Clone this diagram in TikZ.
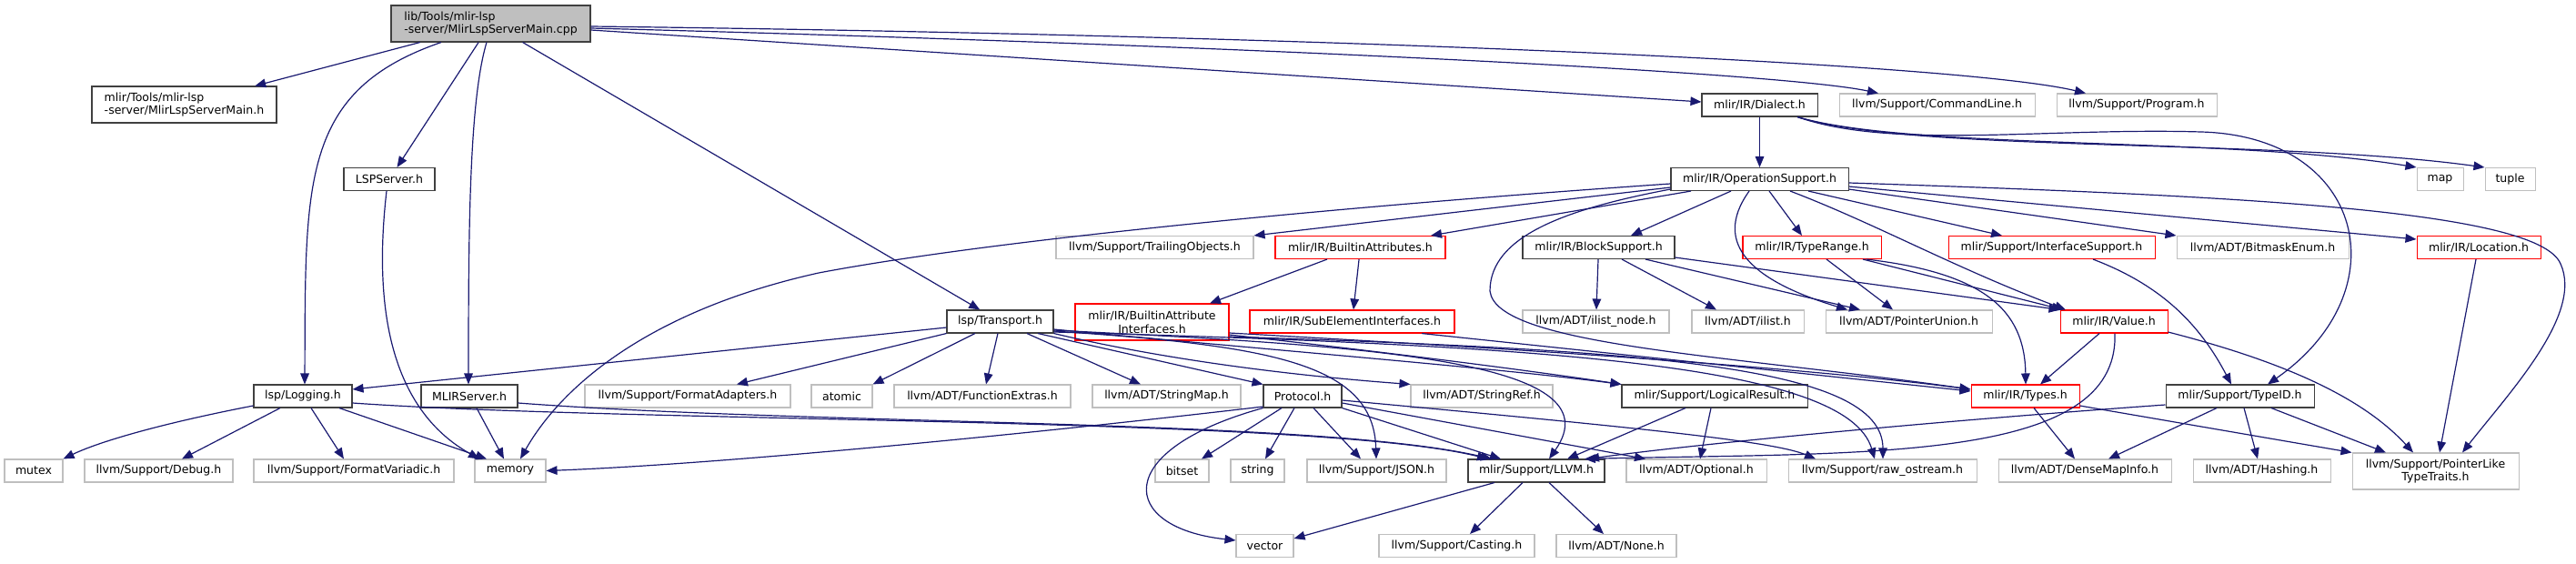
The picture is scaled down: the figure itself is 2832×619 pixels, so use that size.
\documentclass[tikz,border=0pt]{standalone}
\usepackage{fontspec}
\setmainfont{DejaVu Sans}
\usetikzlibrary{arrows.meta}
\definecolor{grey75}{RGB}{191,191,191}
\definecolor{midnight}{RGB}{25,25,112}
\definecolor{boxline}{RGB}{64,64,64}
\begin{document}
\begin{tikzpicture}[x=0.025cm,y=-0.025cm,
  every node/.style={font=\fontsize{8.9}{10.6}\selectfont},
  bw/.style={minimum width=#1*0.025cm},
  box/.style={rectangle,inner sep=0pt,minimum height=0.625cm,line width=0.75pt},
  doc/.style={box,draw=boxline},
  ext/.style={box,draw=grey75},
  cut/.style={box,draw=red},
  tall/.style={minimum height=1cm},
  inc/.style={draw=midnight,line width=0.85pt,-{Triangle[length=0.3cm,width=0.24cm]}}]
\useasboundingbox (0,0) rectangle (2832,619);
% rang 0 et 1
\node[doc,fill=grey75,bw=219,tall,align=left] (root) at (539.5,26) {lib/Tools/mlir-lsp\\-server/MlirLspServerMain.cpp};
\node[doc,bw=203,tall,align=left] (mlsmh) at (202.5,115) {mlir/Tools/mlir-lsp\\-server/MlirLspServerMain.h};
\node[doc,bw=127] (dialect) at (1934.5,115.5) {mlir/IR/Dialect.h};
\node[ext,bw=215] (cmdline) at (2129.5,115.5) {llvm/Support/CommandLine.h};
\node[ext,bw=176] (program) at (2349,115.5) {llvm/Support/Program.h};
% rang 2
\node[doc,bw=100] (lspserver) at (428,197) {LSPServer.h};
\node[doc,bw=195] (opsupport) at (1934.5,197) {mlir/IR/OperationSupport.h};
\node[ext,bw=51] (map) at (2682.5,197) {map};
\node[ext,bw=55] (tuple) at (2759.5,197) {tuple};
% rang 3
\node[ext,bw=217] (trailing) at (1269.5,272) {llvm/Support/TrailingObjects.h};
\node[cut,bw=187] (battr) at (1495.5,272) {mlir/IR/BuiltinAttributes.h};
\node[doc,bw=167] (blocksup) at (1757.5,272) {mlir/IR/BlockSupport.h};
\node[cut,bw=152] (typerange) at (1992,272) {mlir/IR/TypeRange.h};
\node[cut,bw=227] (ifsupport) at (2255.5,272) {mlir/Support/InterfaceSupport.h};
\node[ext,bw=189] (bitmask) at (2487.5,272) {llvm/ADT/BitmaskEnum.h};
\node[cut,bw=136] (location) at (2725,272) {mlir/IR/Location.h};
% rang 4
\node[doc,bw=117] (transport) at (1099.5,353.5) {lsp/Transport.h};
\node[cut,bw=169,tall,align=center] (battrif) at (1266.5,354) {mlir/IR/BuiltinAttribute\\Interfaces.h};
\node[cut,bw=225] (subelem) at (1486.5,353.5) {mlir/IR/SubElementInterfaces.h};
\node[ext,bw=161] (ilistnode) at (1754.5,353.5) {llvm/ADT/ilist\_node.h};
\node[ext,bw=123] (ilist) at (1921.5,353.5) {llvm/ADT/ilist.h};
\node[ext,bw=183] (ptrunion) at (2098.5,353.5) {llvm/ADT/PointerUnion.h};
\node[cut,bw=118] (value) at (2324,353.5) {mlir/IR/Value.h};
% rang 5
\node[doc,bw=108] (logging) at (333,435.5) {lsp/Logging.h};
\node[doc,bw=106] (mlirserver) at (516,435.5) {MLIRServer.h};
\node[ext,bw=226] (fmtadapt) at (756,435.5) {llvm/Support/FormatAdapters.h};
\node[ext,bw=67] (atomic) at (925.5,435.5) {atomic};
\node[ext,bw=194] (funcext) at (1080,435.5) {llvm/ADT/FunctionExtras.h};
\node[ext,bw=163] (strmap) at (1282.5,435.5) {llvm/ADT/StringMap.h};
\node[doc,bw=86] (protocol) at (1432,435.5) {Protocol.h};
\node[ext,bw=156] (strref) at (1629,435.5) {llvm/ADT/StringRef.h};
\node[doc,bw=204] (logres) at (1885,435.5) {mlir/Support/LogicalResult.h};
\node[cut,bw=119] (types) at (2226.5,435.5) {mlir/IR/Types.h};
\node[doc,bw=163] (typeid) at (2462.5,435.5) {mlir/Support/TypeID.h};
% rang 6
\node[ext,bw=64] (mutex) at (37,517.5) {mutex};
\node[ext,bw=163] (debug) at (174.5,517.5) {llvm/Support/Debug.h};
\node[ext,bw=220] (fmtvar) at (389,517.5) {llvm/Support/FormatVariadic.h};
\node[ext,bw=78] (memory) at (561,517.5) {memory};
\node[ext,bw=59] (bitset) at (1299.5,517.5) {bitset};
\node[ext,bw=59] (string) at (1382.5,517.5) {string};
\node[ext,bw=153] (json) at (1513.5,517.5) {llvm/Support/JSON.h};
\node[doc,bw=150] (llvmh) at (1689,517.5) {mlir/Support/LLVM.h};
\node[ext,bw=154] (optional) at (1865,517.5) {llvm/ADT/Optional.h};
\node[ext,bw=207] (rawos) at (2069.5,517.5) {llvm/Support/raw\_ostream.h};
\node[ext,bw=190] (densemap) at (2292,517.5) {llvm/ADT/DenseMapInfo.h};
\node[ext,bw=151] (hashing) at (2486.5,517.5) {llvm/ADT/Hashing.h};
\node[ext,bw=183,tall,align=center] (pltt) at (2677.5,518) {llvm/Support/PointerLike\\TypeTraits.h};
% rang 7
\node[ext,bw=63] (vector) at (1390.5,600) {vector};
\node[ext,bw=171] (casting) at (1601.5,600) {llvm/Support/Casting.h};
\node[ext,bw=132] (none) at (1777,600) {llvm/ADT/None.h};
% fichier principal
\draw[inc] (root) -- (mlsmh);
\draw[inc] (root) -- (lspserver);
\draw[inc] (root.south -| 485,0) .. controls (330,100) and (336,200) .. (logging.north -| 335,0);
\draw[inc] (root.south -| 535,0) .. controls (516,110) and (515,250) .. (mlirserver.north -| 515,0);
\draw[inc] (root) -- (transport);
\draw[inc] (root.east |- 0,33) -- (dialect.west |- 0,112);
\draw[inc] (root.east |- 0,31) .. controls (1300,48) and (1950,78) .. (cmdline.north -| 2065,0);
\draw[inc] (root.east |- 0,29) .. controls (1400,38) and (2150,68) .. (program.north -| 2293,0);
% Dialect.h
\draw[inc] (dialect) -- (opsupport);
\draw[inc] (dialect.south -| 1976,0) .. controls (2100,165) and (2450,150) .. (map.north west);
\draw[inc] (dialect.south -| 1976,0) .. controls (2100,168) and (2500,152) .. (tuple.north west);
\draw[inc] (dialect.south -| 1976,0) .. controls (2080,165) and (2250,140) .. (2420,145) .. controls (2600,150) and (2640,320) .. (typeid.north -| 2493,0);
% OperationSupport.h
\draw[inc] (opsupport.west |- 0,202) .. controls (1500,225) and (1100,262) .. (900,300) .. controls (720,340) and (620,420) .. (memory.north -| 572,0);
\draw[inc] (opsupport.west |- 0,206) -- (trailing.north east);
\draw[inc] (opsupport.south -| 1859,0) -- (battr.north -| 1573,0);
\draw[inc] (opsupport.west |- 0,208) .. controls (1720,230) and (1638,260) .. (1638,320) .. controls (1645,380) and (1900,390) .. (types.west |- 0,428);
\draw[inc] (opsupport.south -| 1903,0) -- (blocksup.north -| 1793,0);
\draw[inc] (opsupport.south -| 1923,0) .. controls (1880,270) and (1930,310) .. (ptrunion.north -| 2031,0);
\draw[inc] (opsupport.south -| 1945,0) -- (typerange.north -| 1981,0);
\draw[inc] (opsupport.south -| 1968,0) .. controls (2060,245) and (2150,295) .. (value.north -| 2271,0);
\draw[inc] (opsupport.south -| 1988,0) -- (ifsupport.north -| 2201,0);
\draw[inc] (opsupport.east |- 0,208) -- (bitmask.north west);
\draw[inc] (opsupport.east |- 0,205) -- (location.west |- 0,263);
\draw[inc] (opsupport.east |- 0,201) .. controls (2450,215) and (2790,230) .. (2815,290) .. controls (2840,345) and (2760,430) .. (pltt.north -| 2707,0);
% BuiltinAttributes.h, BlockSupport.h, TypeRange.h
\draw[inc] (battr.south -| 1459,0) -- (battrif.north -| 1330,0);
\draw[inc] (battr) -- (subelem);
\draw[inc] (blocksup) -- (ilistnode);
\draw[inc] (blocksup.south -| 1783,0) -- (ilist.north -| 1887,0);
\draw[inc] (blocksup.south -| 1809,0) -- (ptrunion.north -| 2045,0);
\draw[inc] (blocksup.east |- 0,283) -- (value.north west);
\draw[inc] (typerange.south -| 2008,0) -- (ptrunion.north -| 2081,0);
\draw[inc] (typerange.south -| 2048,0) -- (value.north -| 2268,0);
\draw[inc] (typerange.south -| 2052,0) .. controls (2180,300) and (2226,340) .. (types.north -| 2227,0);
% InterfaceSupport.h, Location.h, Value.h
\draw[inc] (ifsupport.south -| 2301,0) .. controls (2380,315) and (2420,360) .. (typeid.north -| 2453,0);
\draw[inc] (location.south -| 2722,0) -- (pltt.north -| 2682,0);
\draw[inc] (value.south -| 2308,0) -- (types.north -| 2243,0);
\draw[inc] (value.south -| 2325,0) .. controls (2330,510) and (2050,497) .. (llvmh.north -| 1742,0);
\draw[inc] (value.east |- 0,365) .. controls (2520,400) and (2600,440) .. (pltt.north -| 2653,0);
% Types.h, TypeID.h
\draw[inc] (types.south -| 2236,0) -- (densemap.north -| 2281,0);
\draw[inc] (types.east |- 0,446) -- (pltt.north west);
\draw[inc] (typeid.west |- 0,445) .. controls (2100,465) and (1850,490) .. (llvmh.north -| 1746,0);
\draw[inc] (typeid.south -| 2437,0) -- (densemap.north -| 2318,0);
\draw[inc] (typeid.south -| 2467,0) -- (hashing.north -| 2482,0);
\draw[inc] (typeid.south -| 2497,0) -- (pltt.north -| 2623,0);
% LogicalResult.h, LLVM.h
\draw[inc] (logres.south -| 1853,0) -- (llvmh.north -| 1723,0);
\draw[inc] (logres.south -| 1881,0) -- (optional.north -| 1869,0);
\draw[inc] (llvmh.south -| 1643,0) -- (vector.east |- 0,592);
\draw[inc] (llvmh.south -| 1674,0) -- (casting.north -| 1616,0);
\draw[inc] (llvmh.south -| 1703,0) -- (none.north -| 1763,0);
% Protocol.h
\draw[inc] (protocol.west |- 0,447) .. controls (1150,475) and (800,510) .. (memory.east);
\draw[inc] (protocol.south west) .. controls (1220,495) and (1230,580) .. (vector.west |- 0,594);
\draw[inc] (protocol.south -| 1409,0) -- (bitset.north -| 1321,0);
\draw[inc] (protocol.south -| 1423,0) -- (string.north -| 1391,0);
\draw[inc] (protocol.south -| 1444,0) -- (json.north -| 1496,0);
\draw[inc] (protocol.south east) -- (llvmh.north -| 1650,0);
\draw[inc] (protocol.east |- 0,443) -- (optional.north -| 1809,0);
\draw[inc] (protocol.east |- 0,440) .. controls (1800,470) and (1950,485) .. (rawos.north -| 1996,0);
% Transport.h
\draw[inc] (transport.west |- 0,360) -- (logging.east |- 0,428);
\draw[inc] (transport.south west) -- (fmtadapt.north -| 810,0);
\draw[inc] (transport.south -| 1072,0) -- (atomic.north east);
\draw[inc] (transport.south -| 1097,0) -- (funcext.north -| 1084,0);
\draw[inc] (transport.south -| 1129,0) -- (strmap.north -| 1254,0);
\draw[inc] (transport.south -| 1141,0) -- (protocol.north west);
\draw[inc] (transport.south east) .. controls (1300,400) and (1450,415) .. (strref.north west);
\draw[inc] (transport.east |- 0,362) .. controls (1400,385) and (1650,405) .. (logres.north west);
\draw[inc] (transport.east |- 0,364) .. controls (1400,380) and (1510,400) .. (json.north -| 1513,0);
\draw[inc] (transport.east |- 0,363) .. controls (1500,380) and (1780,395) .. (llvmh.north -| 1703,0);
\draw[inc] (transport.east |- 0,365) .. controls (1700,380) and (2030,400) .. (rawos.north -| 2061,0);
% BuiltinAttributeInterfaces.h, SubElementInterfaces.h
\draw[inc] (battrif.east |- 0,366) .. controls (1600,380) and (1950,400) .. (types.west |- 0,428);
\draw[inc] (battrif.east |- 0,368) .. controls (1550,390) and (1700,410) .. (logres.north west);
\draw[inc] (battrif.east |- 0,370) .. controls (1800,385) and (2070,400) .. (rawos.north -| 2070,0);
\draw[inc] (subelem.south -| 1563,0) -- (types.west |- 0,430);
% MLIRServer.h, Logging.h, LSPServer.h
\draw[inc] (mlirserver.south -| 524,0) -- (memory.north -| 554,0);
\draw[inc] (mlirserver.east |- 0,443) .. controls (900,468) and (1450,460) .. (llvmh.north -| 1640,0);
\draw[inc] (logging.west |- 0,446) .. controls (180,465) and (110,485) .. (mutex.north east);
\draw[inc] (logging.south -| 308,0) -- (debug.north -| 200,0);
\draw[inc] (logging.south -| 342,0) -- (fmtvar.north -| 378,0);
\draw[inc] (logging.south -| 373,0) -- (memory.north -| 535,0);
\draw[inc] (logging.east |- 0,443) .. controls (700,465) and (1450,458) .. (llvmh.north -| 1636,0);
\draw[inc] (lspserver.south -| 425,0) .. controls (410,340) and (430,450) .. (memory.north -| 527,0);
\end{tikzpicture}
\end{document}
